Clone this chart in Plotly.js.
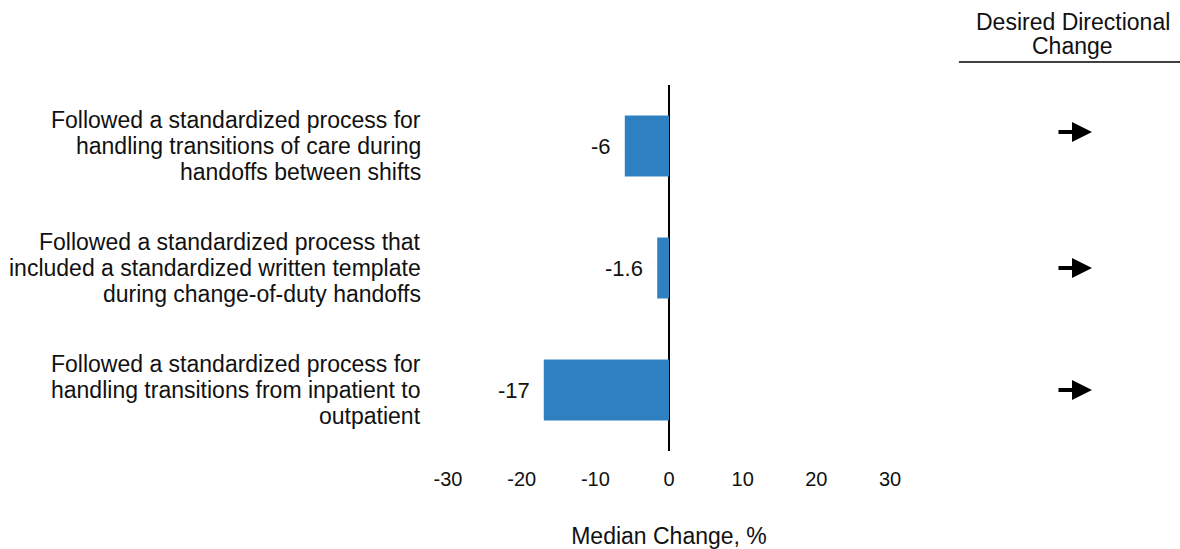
<!DOCTYPE html>
<html>
<head>
<meta charset="utf-8">
<script src="https://cdn.plot.ly/plotly-3.0.1.min.js"></script>
<style>html,body{margin:0;padding:0;background:#fff;}#chart{width:1180px;height:549px;}</style>
</head>
<body>
<div id="chart"></div>
<script>
const categories = [
  "Followed a standardized process for<br>handling transitions of care during<br>handoffs between shifts",
  "Followed a standardized process that<br>included a standardized written template<br>during change-of-duty handoffs",
  "Followed a standardized process for<br>handling transitions from inpatient to<br>outpatient"
];
const medianChange = [-6, -1.6, -17];
const valueLabels = ["-6", "-1.6", "-17"];
const desiredDirection = ["right", "right", "right"];
const tickValues = [-30, -20, -10, 0, 10, 20, 30];
const headerLines = ["Desired Directional", "Change"];
const arrowShift = [14, 0, 0];

const FONT = "Liberation Sans, Arial, sans-serif";
const TXT = "#111";

const trace = {
  type: "bar",
  orientation: "h",
  x: medianChange,
  y: categories,
  width: 0.5,
  marker: {color: "#2F80C1"},
  hoverinfo: "none"
};

const annotations = [];
const LINE = 26;
categories.forEach((c, i) => {
  const lines = c.split("<br>");
  const n = lines.length;
  lines.forEach((ln, j) => {
    annotations.push({
      x: 0, y: c, xref: "paper", yref: "y",
      text: ln, showarrow: false,
      xanchor: "right", yanchor: "middle", xshift: -25,
      yshift: ((n - 1) / 2 - j) * LINE,
      font: {family: FONT, size: 23, color: TXT}
    });
  });
});
medianChange.forEach((v, i) => {
  annotations.push({
    x: v, y: categories[i], xref: "x", yref: "y",
    text: valueLabels[i], showarrow: false,
    xanchor: "right", yanchor: "middle", xshift: -12,
    font: {family: FONT, size: 22, color: TXT}
  });
  annotations.push({
    x: 1.457, y: categories[i], xref: "paper", yref: "y",
    ax: desiredDirection[i] === "right" ? -35 : 35, ay: 0,
    text: "", showarrow: true, arrowhead: 2, arrowsize: 1, arrowwidth: 4,
    arrowcolor: "#000", yshift: arrowShift[i]
  });
});
headerLines.forEach((ln, j) => {
  annotations.push({
    x: 1.414, y: j === 0 ? 1.172 : 1.107, xref: "paper", yref: "paper",
    text: ln, showarrow: false,
    xanchor: "center", yanchor: "middle",
    font: {family: FONT, size: 23, color: TXT}
  });
});

const layout = {
  width: 1180, height: 549,
  margin: {l: 448, r: 290, t: 85, b: 98},
  paper_bgcolor: "#fff", plot_bgcolor: "#fff",
  showlegend: false,
  font: {family: FONT, size: 20, color: TXT},
  xaxis: {
    range: [-30, 30], tickvals: tickValues, ticktext: tickValues.map(String),
    showgrid: false, showline: false, ticks: "",
    zeroline: true, zerolinecolor: "#000", zerolinewidth: 2,
    tickfont: {family: FONT, size: 20, color: TXT},
    ticklabelstandoff: 14,
    title: {text: "Median Change, %", font: {family: FONT, size: 23, color: TXT}, standoff: 38},
    automargin: false
  },
  yaxis: {
    autorange: "reversed", range: [2.5, -0.5],
    showgrid: false, showline: false, zeroline: false, ticks: "",
    showticklabels: false, automargin: false
  },
  annotations: annotations,
  shapes: [{
    type: "line", xref: "paper", yref: "paper",
    x0: 1.156, x1: 1.66, y0: 1.063, y1: 1.063,
    line: {color: "#000", width: 1.5}
  }]
};

Plotly.newPlot("chart", [trace], layout, {displayModeBar: false, staticPlot: true});
</script>
</body>
</html>
